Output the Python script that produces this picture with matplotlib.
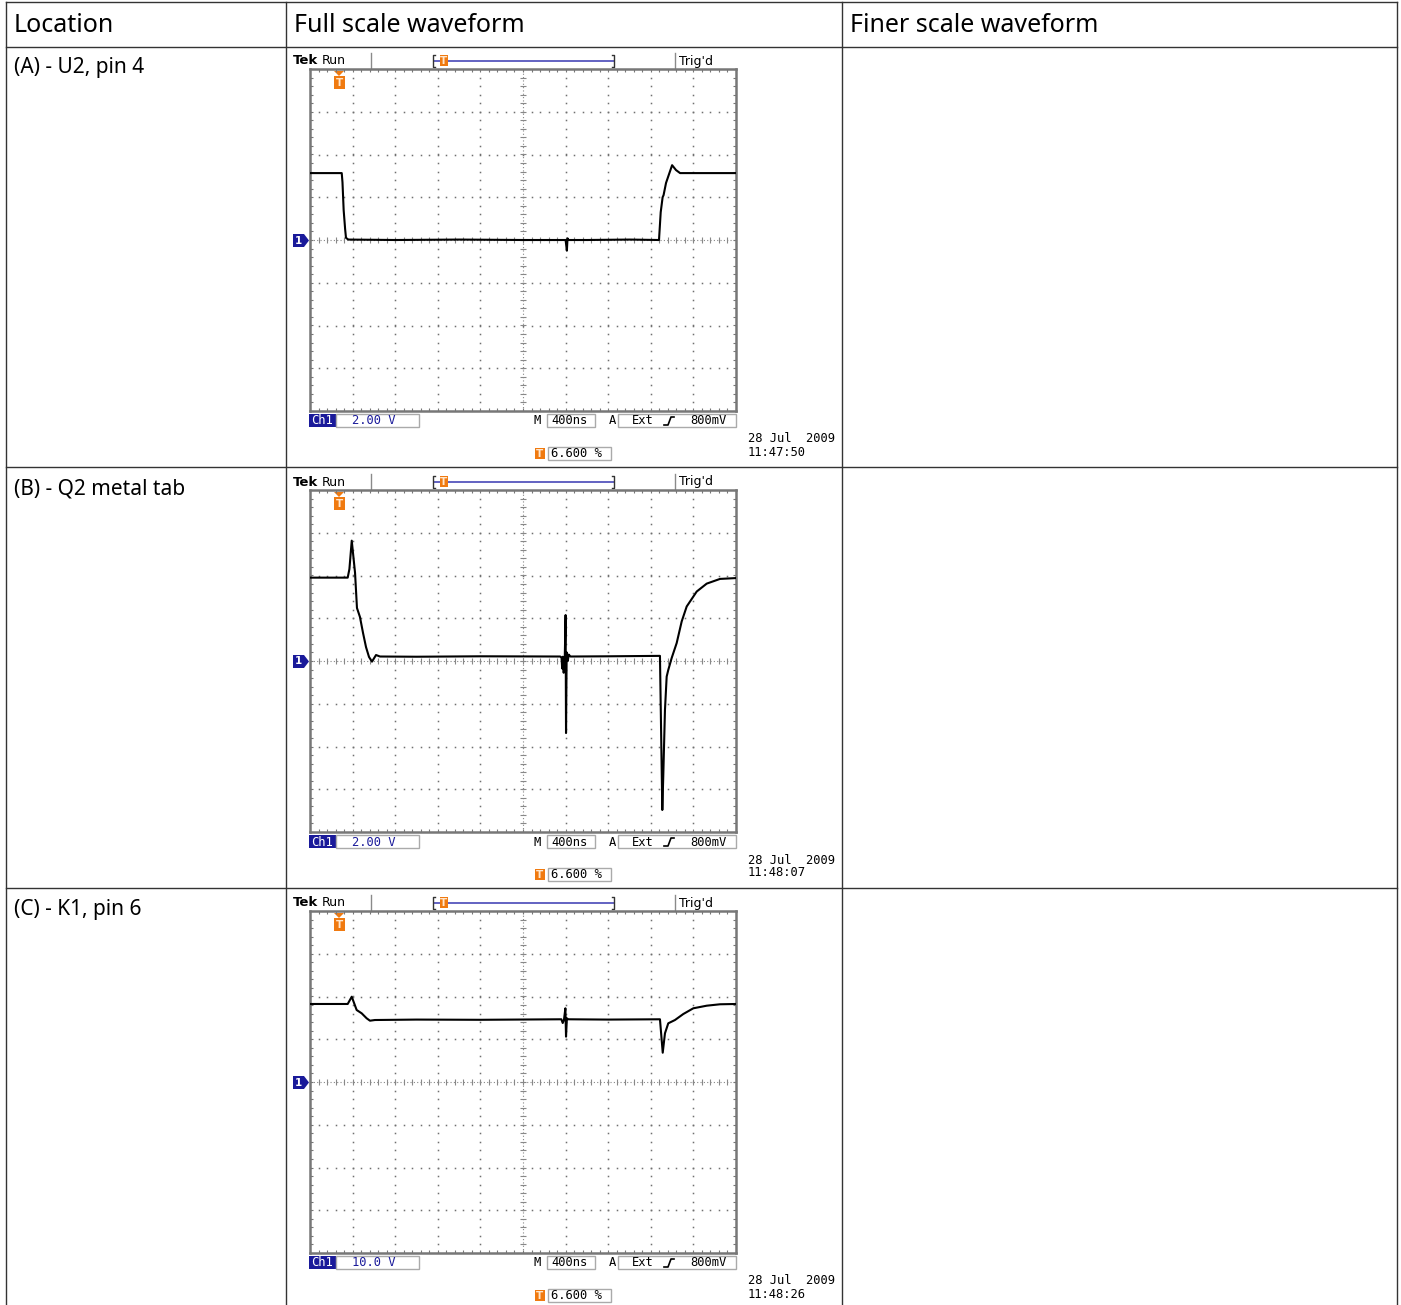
import numpy as np
import matplotlib.pyplot as plt
from matplotlib.patches import Polygon, Rectangle

# table text
headers = ["Location", "Full scale waveform", "Finer scale waveform"]
locations = ["(A) - U2, pin 4", "(B) - Q2 metal tab", "(C) - K1, pin 6"]

# scope settings per row
volts_per_div = [2.0, 2.0, 10.0]
ch1_labels = ["2.00 V", "2.00 V", "10.0 V"]
timestamps = ["11:47:50", "11:48:07", "11:48:26"]
date_label = "28 Jul  2009"
time_label = "400ns"
trig_label = "800mV"
trig_pos = "6.600 %"

# waveforms (time in ns, voltage in V)
t_a = [0, 298, 305, 316, 330, 338, 360, 800, 1400, 2000, 2400, 2406, 2412, 2418, 2426,
       2600, 3000, 3277, 3293, 3311, 3320, 3343, 3400, 3437, 3475, 3600, 4000]
v_a = [3.13, 3.13, 2.7, 1.4, 0.5, 0.1, 0.02, 0.0, 0.02, 0.0, 0.0, -0.25, -0.5, 0.08, 0.0,
       0.0, 0.02, 0.0, 1.3, 2.0, 2.1, 2.67, 3.5, 3.27, 3.13, 3.13, 3.13]

t_b = [0, 354, 370, 392, 423, 441, 469, 498, 526, 554, 582, 620, 657, 1000, 1600, 2350,
       2362, 2368, 2374, 2382, 2392, 2400, 2404, 2410, 2420, 2430, 2445, 2800, 3286, 3308,
       3317, 3333, 3349, 3364, 3396, 3443, 3490, 3537, 3631, 3725, 3850, 4000]
v_b = [3.90, 3.90, 4.3, 5.63, 4.12, 2.48, 2.06, 1.31, 0.65, 0.19, -0.03, 0.28, 0.21, 0.2,
       0.22, 0.21, 0.15, -0.35, 0.2, -0.55, 0.1, 2.15, -3.37, 0.4, 0.0, 0.3, 0.21, 0.22,
       0.24, -6.97, -5.40, -2.29, -0.73, -0.42, 0.14, 0.84, 1.85, 2.55, 3.25, 3.62, 3.84,
       3.88]

t_c = [0, 354, 392, 438, 485, 532, 563, 610, 1000, 1600, 2360, 2373, 2385, 2398, 2404,
       2412, 2425, 2800, 3286, 3312, 3333, 3364, 3427, 3505, 3599, 3725, 3850, 4000]
v_c = [18.25, 18.25, 19.95, 16.84, 16.07, 14.90, 14.34, 14.50, 14.6, 14.55, 14.67, 13.8,
       14.6, 17.24, 10.6, 14.9, 14.67, 14.6, 14.67, 6.85, 11.39, 13.73, 14.5, 15.9, 17.24,
       17.85, 18.18, 18.25]

waves = [(t_a, v_a), (t_b, v_b), (t_c, v_c)]
row_offsets = [0, 421, 842]

W, H = 1401, 1305
fig = plt.figure(figsize=(W / 100, H / 100), dpi=100)
bg = fig.add_axes([0, 0, 1, 1])
bg.set_xlim(0, W)
bg.set_ylim(H, 0)
bg.axis('off')

# table lines
line_kw = dict(color='#333333', lw=1.0)
for y in [2, 47, 467, 888]:
    bg.plot([6, 1397], [y, y], **line_kw)
for x in [6, 286, 842, 1397]:
    bg.plot([x, x], [2, H], **line_kw)

for x, txt in zip([14, 294, 850], headers):
    bg.text(x, 26, txt, fontsize=18, family='Noto Sans', va='center', ha='left')
for dy, txt in zip(row_offsets, locations):
    bg.text(14, 68 + dy, txt, fontsize=15, family='Noto Sans', va='center', ha='left')

ORANGE = '#f07a10'
BLUE = '#1a1a9a'
GRAY = '#8a8a8a'
mono = dict(family='DejaVu Sans Mono', fontsize=8.7, va='center')


def t_marker(cx, ytop, h, w, tri=True):
    if tri:
        bg.add_patch(Polygon([(cx - 5, ytop), (cx + 5, ytop), (cx, ytop + 5)], color=ORANGE,
                             lw=0, zorder=6))
        ytop += 5
    bg.add_patch(Rectangle((cx - w / 2, ytop), w, h, color=ORANGE, lw=0, zorder=6))
    bg.text(cx, ytop + h / 2 + 0.5, 'T', color='#ffe6cc', fontsize=7.5, fontweight='bold',
            ha='center', va='center', family='DejaVu Sans', zorder=7)


def draw_scope(dy, t, v, vdiv, ch_label, stamp):
    # header strip
    bg.text(293, 61 + dy, 'Tek', fontsize=9.5, fontweight='bold', va='center', family='DejaVu Sans')
    bg.text(322, 61 + dy, 'Run', fontsize=9, va='center', family='DejaVu Sans')
    bg.plot([371, 371], [53 + dy, 69 + dy], color=GRAY, lw=1)
    bg.plot([675, 675], [53 + dy, 69 + dy], color=GRAY, lw=1)
    bg.plot([434, 614], [61 + dy, 61 + dy], color='#4848b8', lw=1.2)
    for bx, s in [(433, 1), (614, -1)]:
        bg.plot([bx + 2 * s, bx, bx, bx + 2 * s], [55 + dy, 55 + dy, 67 + dy, 67 + dy],
                color='#333333', lw=1)
    t_marker(444, 55 + dy, 11, 8, tri=False)
    bg.text(679, 61 + dy, "Trig'd", va='center', fontsize=9, family='DejaVu Sans')
    t_marker(339, 71 + dy, 13, 11)

    # ground marker
    bg.add_patch(Polygon([(293, 234 + dy), (304, 234 + dy), (309, 240.5 + dy), (304, 247 + dy),
                          (293, 247 + dy)], color=BLUE, lw=0))
    bg.text(298.5, 240.5 + dy, '1', color='white', fontsize=7.5, fontweight='bold',
            ha='center', va='center')

    # bottom readouts
    bg.add_patch(Rectangle((309, 414 + dy), 27, 13, color=BLUE, lw=0))
    bg.text(322, 421 + dy, 'Ch1', color='white', ha='center', **mono)
    bg.add_patch(Rectangle((336, 414 + dy), 83, 13, fill=False, ec='#aaaaaa', lw=1))
    bg.text(352, 421 + dy, ch_label, color=BLUE, ha='left', **mono)
    bg.text(533, 421 + dy, 'M', ha='left', **mono)
    bg.add_patch(Rectangle((547, 414 + dy), 48, 13, fill=False, ec='#aaaaaa', lw=1))
    bg.text(551, 421 + dy, time_label, ha='left', **mono)
    bg.text(609, 421 + dy, 'A', ha='left', **mono)
    bg.add_patch(Rectangle((618, 414 + dy), 118, 13, fill=False, ec='#aaaaaa', lw=1))
    bg.text(632, 421 + dy, 'Ext', ha='left', **mono)
    bg.plot([664, 668, 671, 674], [425 + dy, 425 + dy, 417 + dy, 417 + dy], color='black', lw=1.2)
    bg.text(690, 421 + dy, trig_label, ha='left', **mono)
    t_marker(540, 448 + dy, 11, 10, tri=False)
    bg.add_patch(Rectangle((548, 447 + dy), 63, 13, fill=False, ec='#aaaaaa', lw=1))
    bg.text(551, 453.5 + dy, trig_pos, ha='left', **mono)
    bg.text(748, 439 + dy, date_label, ha='left', **mono)
    bg.text(748, 452 + dy, stamp, ha='left', **mono)

    # screen
    left, top, right, bottom = 310, 69 + dy, 736, 411 + dy
    ax = fig.add_axes([left / W, 1 - bottom / H, (right - left) / W, (bottom - top) / H])
    ax.set_facecolor('none')
    ax.set_xlim(0, 4000)
    ax.set_ylim(-4 * vdiv, 4 * vdiv)
    ax.set_xticks([])
    ax.set_yticks([])
    for sp in ax.spines.values():
        sp.set_color('#777777')
        sp.set_linewidth(1.8)

    xs = np.arange(0, 4000.1, 80)
    ys = np.arange(-4, 4.01, 0.2) * vdiv
    dot = dict(ls='none', marker='s', ms=1.1, mew=0, color='#707070')
    for k in range(1, 10):
        if k != 5:
            ax.plot(np.full_like(ys, k * 400), ys, **dot)
    for j in range(-3, 4):
        if j != 0:
            ax.plot(xs, np.full_like(xs, j * vdiv), **dot)
    # centre lines with minor ticks
    ax.plot(xs, np.zeros_like(xs), ls=(0, (1, 2)), lw=0.8, color='#888888')
    ax.plot(xs, np.zeros_like(xs), ls='none', marker='|', ms=4, mew=0.8, color='#888888')
    ax.plot(np.full_like(ys, 2000), ys, ls=(0, (1, 2)), lw=0.8, color='#888888')
    ax.plot(np.full_like(ys, 2000), ys, ls='none', marker='_', ms=4, mew=0.8, color='#888888')
    # frame ticks
    ax.plot(xs, np.full_like(xs, 4 * vdiv), ls='none', marker='|', ms=5, mew=0.8, color='#777777')
    ax.plot(xs, np.full_like(xs, -4 * vdiv), ls='none', marker='|', ms=5, mew=0.8, color='#777777')
    ax.plot(np.zeros_like(ys), ys, ls='none', marker='_', ms=5, mew=0.8, color='#777777')
    ax.plot(np.full_like(ys, 4000), ys, ls='none', marker='_', ms=5, mew=0.8, color='#777777')

    ax.plot(t, v, color='black', lw=1.5, zorder=5, solid_joinstyle='round')


for dy, (t, v), vdiv, lab, stamp in zip(row_offsets, waves, volts_per_div, ch1_labels, timestamps):
    draw_scope(dy, t, v, vdiv, lab, stamp)

fig.savefig('out.png', dpi=100)
